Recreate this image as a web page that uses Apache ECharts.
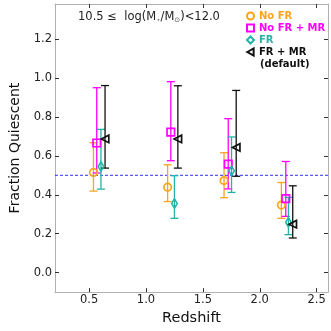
<!DOCTYPE html>
<html><head><meta charset="utf-8">
<script src="https://cdn.jsdelivr.net/npm/echarts@6/dist/echarts.min.js"></script>
<style>html,body{margin:0;padding:0;background:#fff}#c{width:331px;height:331px}</style>
</head><body><div id="c"></div>
<script>
// ---- data ----
const xTicks = [0.5, 1.0, 1.5, 2.0, 2.5];
const yTicks = [0.0, 0.2, 0.4, 0.6, 0.8, 1.0, 1.2];
const seriesNames = ['No FR', 'No FR + MR', 'FR', 'FR + MR'];

const zNoFR   = [0.538, 1.190, 1.686, 2.190];
const qNoFR   = [0.515, 0.439, 0.473, 0.347];
const hiNoFR  = [0.667, 0.554, 0.616, 0.463];
const loNoFR  = [0.419, 0.365, 0.385, 0.279];

const zNoFRMR  = [0.567, 1.218, 1.723, 2.229];
const qNoFRMR  = [0.666, 0.722, 0.557, 0.380];
const hiNoFRMR = [0.950, 0.981, 0.791, 0.571];
const loNoFRMR = [0.512, 0.575, 0.430, 0.289];

const zFR   = [0.604, 1.250, 1.752, 2.252];
const qFR   = [0.545, 0.355, 0.523, 0.259];
const hiFR  = [0.736, 0.498, 0.697, 0.387];
const loFR  = [0.429, 0.279, 0.412, 0.195];

const zFRMR  = [0.640, 1.280, 1.793, 2.290];
const qFRMR  = [0.687, 0.687, 0.643, 0.249];
const hiFRMR = [0.961, 0.960, 0.936, 0.446];
const loFRMR = [0.537, 0.537, 0.495, 0.178];

const refLine = [0.5];

// ---- styling ----
const FONT = 'DejaVu Sans';
const colors = ['#ffa31a', '#ff00ff', '#25b3a8', '#111111'];
const symbols = ['circle', 'rect', 'diamond', 'triangle'];
const symSizes = [7.5, 7.5, [5.5, 9.5], [7.5, 7.5]];
const symRot = [0, 0, 0, 90];
const legendIcons = ['circle', 'rect', 'diamond', 'path://M0,5 L9,0 L9,10 Z'];

const groups = [
  [zNoFR, qNoFR, hiNoFR, loNoFR],
  [zNoFRMR, qNoFRMR, hiNoFRMR, loNoFRMR],
  [zFR, qFR, hiFR, loFR],
  [zFRMR, qFRMR, hiFRMR, loFRMR]
];

const series = [{
  name: 'ref', type: 'custom', silent: true, z: 1,
  data: refLine.map(v => [v]),
  encode: { y: 0 },
  renderItem: (params, api) => {
    const cs = params.coordSys;
    const p = api.coord([0.2, api.value(0)]);
    return { type: 'line',
      shape: { x1: cs.x, y1: p[1], x2: cs.x + cs.width, y2: p[1] },
      style: { stroke: '#2f2fff', lineWidth: 1, lineDash: [3, 2] } };
  }
}];
groups.forEach((g, i) => {
  const [z, q, hi, lo] = g;
  series.push({
    name: seriesNames[i] + ' err',
    type: 'custom',
    z: 2 + i,
    data: z.map((x, k) => [x, lo[k], hi[k]]),
    encode: { x: 0, y: [1, 2] },
    renderItem: (params, api) => {
      const x = api.value(0), l = api.value(1), h = api.value(2);
      const p1 = api.coord([x, h]), p2 = api.coord([x, l]);
      const cw = 4;
      const st = { stroke: colors[i], lineWidth: 1.3 };
      return { type: 'group', children: [
        { type: 'line', shape: { x1: p1[0], y1: p1[1], x2: p2[0], y2: p2[1] }, style: st },
        { type: 'line', shape: { x1: p1[0] - cw, y1: p1[1], x2: p1[0] + cw, y2: p1[1] }, style: st },
        { type: 'line', shape: { x1: p2[0] - cw, y1: p2[1], x2: p2[0] + cw, y2: p2[1] }, style: st }
      ]};
    },
    silent: true
  });
  series.push({
    name: seriesNames[i],
    type: 'scatter',
    z: 10 + i,
    symbol: symbols[i],
    symbolSize: symSizes[i],
    symbolRotate: symRot[i],
    itemStyle: { color: 'rgba(255,255,255,0)', borderColor: colors[i], borderWidth: 1.7, opacity: 1 },
    data: z.map((x, k) => [x, q[k]])
  });
});

const axisCommon = {
  axisLine: { show: true, onZero: false, lineStyle: { color: '#b0b0b0', width: 1 } },
  splitLine: { show: false }
};

const option = {
  animation: false,
  textStyle: { fontFamily: FONT },
  grid: { left: 53, right: 3, top: 4, bottom: 33 },
  title: {
    text: '10.5 ≤  log(M{s|⋆}/M{s|⊙})<12.0',
    left: 73, top: 6,
    textStyle: {
      fontFamily: FONT, fontSize: 11.5, fontWeight: 'normal', color: '#222',
      rich: { s: { fontFamily: FONT, fontSize: 7, color: '#555', padding: [6, 0, 0, 0] } }
    }
  },
  graphic: [{
    type: 'text', left: 260, top: 59,
    style: { text: '(default)', fontFamily: FONT, fontSize: 10, fontWeight: 'bold', fill: '#111' }
  }],
  legend: {
    orient: 'vertical', left: 246, top: 11, padding: 0,
    itemWidth: 7, itemHeight: 7, itemGap: 2, itemTextGap: 7,
    selectedMode: false,
    textStyle: { fontFamily: FONT, fontSize: 10, fontWeight: 'bold' },
    data: seriesNames.map((n, i) => ({ name: n, icon: legendIcons[i], textStyle: { color: colors[i] } }))
  },
  xAxis: [
    Object.assign({}, axisCommon, {
      type: 'value', min: 0.2, max: 2.6, position: 'bottom',
      name: 'Redshift', nameLocation: 'middle', nameGap: 14,
      nameTextStyle: { fontFamily: FONT, fontSize: 14.5, color: '#111' },
      axisTick: { show: true, inside: true, length: 4, lineStyle: { color: '#333' }, customValues: xTicks },
      axisLabel: { show: true, margin: 2, fontFamily: FONT, fontSize: 11.5, color: '#222', customValues: xTicks,
        formatter: v => v.toFixed(1) }
    }),
    Object.assign({}, axisCommon, {
      type: 'value', min: 0.2, max: 2.6, position: 'top',
      axisTick: { show: true, inside: true, length: 4, lineStyle: { color: '#333' }, customValues: xTicks },
      axisLabel: { show: false }
    })
  ],
  yAxis: [
    Object.assign({}, axisCommon, {
      type: 'value', min: -0.1, max: 1.38, position: 'left',
      name: 'Fraction Quiescent', nameLocation: 'middle', nameGap: 33,
      nameTextStyle: { fontFamily: FONT, fontSize: 14, color: '#111' },
      axisTick: { show: true, inside: true, length: 4, lineStyle: { color: '#333' }, customValues: yTicks },
      axisLabel: { show: true, margin: 3, fontFamily: FONT, fontSize: 11.5, color: '#222', customValues: yTicks,
        formatter: v => v.toFixed(1) }
    }),
    Object.assign({}, axisCommon, {
      type: 'value', min: -0.1, max: 1.38, position: 'right',
      axisTick: { show: true, inside: true, length: 4, lineStyle: { color: '#333' }, customValues: yTicks },
      axisLabel: { show: false }
    })
  ],
  series: series
};

const chart = echarts.init(document.getElementById('c'), null, { renderer: 'canvas' });
chart.setOption(option);
</script>
</body></html>
